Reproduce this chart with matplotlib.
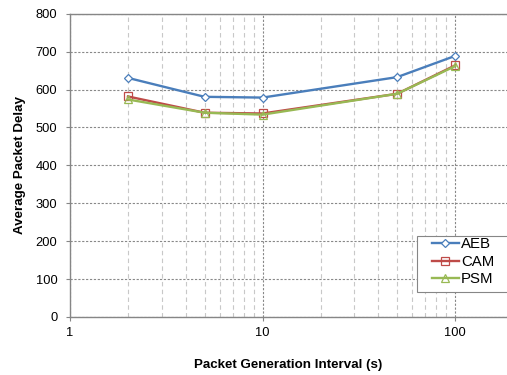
import numpy as np
import matplotlib
matplotlib.use("Agg")
import matplotlib.pyplot as plt
from matplotlib.patches import Rectangle
from matplotlib.ticker import FixedLocator, NullFormatter

plt.rcParams['font.family'] = ['Liberation Sans', 'DejaVu Sans']

intervals = [2, 5, 10, 50, 100]
aeb = [631, 581, 579, 633, 689]
cam = [582, 539, 537, 589, 664]
psm = [574, 539, 534, 589, 662]

fig = plt.figure(figsize=(5.07, 3.75), dpi=100)
ax = fig.add_axes([0.138, 0.155, 0.862, 0.808])

ax.plot(intervals, aeb, color='#4A7EBB', lw=1.7, marker='D', ms=4.5,
        mfc='white', mec='#4A7EBB', mew=0.9, label='AEB', zorder=5)
ax.plot(intervals, cam, color='#BE4B48', lw=1.7, marker='s', ms=6,
        mfc='none', mec='#BE4B48', mew=0.9, label='CAM', zorder=5)
ax.plot(intervals, psm, color='#98B954', lw=1.7, marker='^', ms=6,
        mfc='none', mec='#98B954', mew=0.9, label='PSM', zorder=6)

ax.set_xscale('log')
ax.set_xlim(1, 186)
ax.set_ylim(0, 800)
ax.set_yticks(np.arange(0, 801, 100))
ax.xaxis.set_major_locator(FixedLocator([1, 10, 100]))
ax.set_xticklabels(['1', '10', '100'])
minors = [m * d for d in (1, 10, 100) for m in range(2, 10)]
ax.xaxis.set_minor_locator(FixedLocator(minors))
ax.xaxis.set_minor_formatter(NullFormatter())

ax.grid(True, which='major', axis='both', color='#888888', ls=(0, (2, 1.5)), lw=0.8)
ax.grid(True, which='minor', axis='x', color='#c8c8c8', ls=(0, (4, 3)), lw=0.8)
ax.set_axisbelow(True)

for s in ax.spines.values():
    s.set_color('#868686')
    s.set_linewidth(1.0)
ax.spines['right'].set_visible(False)

ax.tick_params(which='major', length=3, color='#868686', labelsize=9.3)
ax.tick_params(which='minor', length=0)
ax.tick_params(axis='x', pad=4)
ax.tick_params(axis='y', pad=6)

ax.set_xlabel('Packet Generation Interval (s)', fontsize=9.6, fontweight='bold', labelpad=15)
ax.set_ylabel('Average Packet Delay', fontsize=9.6, fontweight='bold', labelpad=7)

# legend box drawn separately so it can run off the right edge
box = Rectangle((0.794, 0.083), 0.25, 0.185, transform=ax.transAxes,
                facecolor='white', edgecolor='#868686', lw=0.8,
                clip_on=False, zorder=7)
ax.add_patch(box)
leg = ax.legend(loc='upper left', bbox_to_anchor=(0.829, 0.262), fontsize=10.8,
                frameon=False, handlelength=1.75, handletextpad=0.15,
                borderpad=0, labelspacing=0.22, borderaxespad=0)
leg.set_zorder(8)

fig.savefig('out.png', dpi=100)
